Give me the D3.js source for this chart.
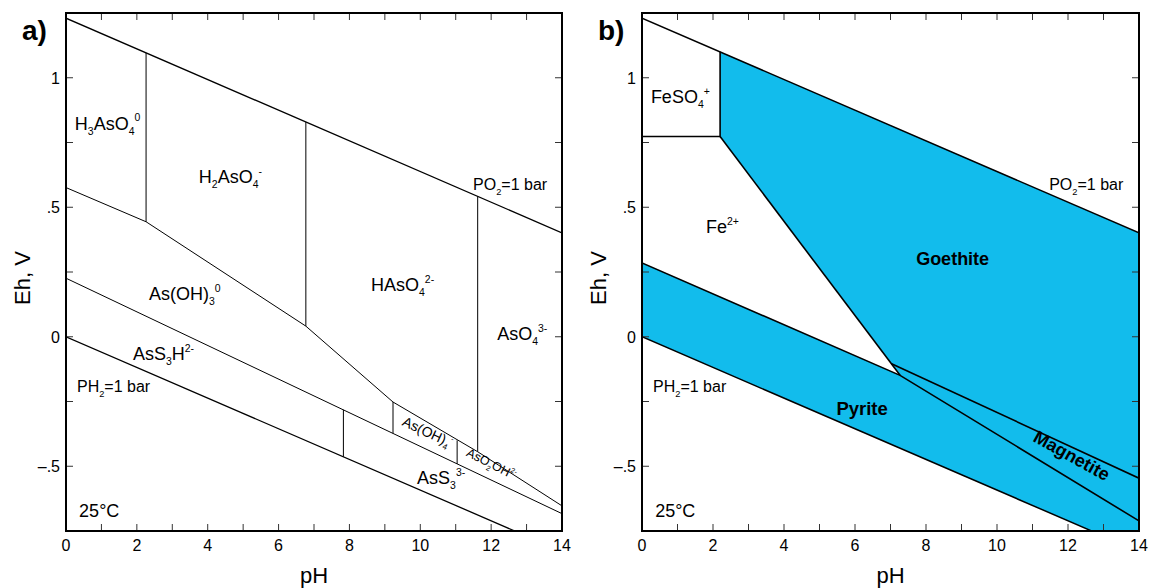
<!DOCTYPE html>
<html><head><meta charset="utf-8">
<script src="https://cdn.jsdelivr.net/npm/d3@7"></script>
<style>body{margin:0;background:#fff}svg{display:block}text{font-family:"Liberation Sans",Arial,sans-serif;fill:#000}</style>
</head><body>
<svg id="c" width="1149" height="588"></svg>
<script>
// ---------- data ----------
const phDomain = [0, 14];
const ehDomain = [-0.75, 1.25];
const phTicks = d3.range(0, 15, 1);
const phLabels = [0, 2, 4, 6, 8, 10, 12, 14];
const ehTicks = d3.range(-0.75, 1.26, 0.25);
const ehLabels = [-0.5, 0, 0.5, 1];
const ehLabelText = ["\u2013.5", "0", ".5", "1"];

const o2Line = [[0, 1.23], [14, 0.401]];
const h2Line = [[0, 0], [14, -0.829]];

// panel a (As)
const asUpper = [[0, 0.576], [2.26, 0.444], [6.77, 0.041], [9.23, -0.252], [11.62, -0.444], [14, -0.653]];
const asLower = [[0, 0.226], [14, -0.683]];
const asVerticals = [[2.26, 1.096, 0.444], [6.77, 0.829, 0.041], [11.62, 0.542, -0.444],
                     [7.83, -0.282, -0.4635], [9.23, -0.252, -0.373], [11.04, -0.40, -0.491]];

// panel b (Fe)
const feso4Box = [[0, 0.773], [2.2, 0.773], [2.2, 1.10]];
const goethite = [[2.2, 1.10], [14, 0.401], [14, -0.546], [7.03, -0.104], [2.2, 0.773]];
const magnetite = [[7.03, -0.104], [14, -0.546], [14, -0.711], [7.27, -0.149]];
const pyrite = [[0, 0.285], [7.27, -0.149], [14, -0.711], [14, -0.829], [0, 0]];
const fe2GoeLine = [[2.2, 0.773], [7.27, -0.149]];
const magTopLine = [[7.03, -0.104], [14, -0.546]];
const pyrTopLine = [[0, 0.285], [7.27, -0.149], [14, -0.711]];

// labels: [text, pH, Eh, size, bold, rotate, anchor]
const labelsA = [
  ["H_{3}AsO_{4}^{0}", 0.25, 0.80, 18, false, 0, "start"],
  ["H_{2}AsO_{4}^{-}", 3.75, 0.593, 18, false, 0, "start"],
  ["HAsO_{4}^{2-}", 8.61, 0.176, 18, false, 0, "start"],
  ["AsO_{4}^{3-}", 12.17, -0.013, 18, false, 0, "start"],
  ["As(OH)_{3}^{0}", 2.34, 0.141, 18, false, 0, "start"],
  ["AsS_{3}H^{2-}", 1.89, -0.091, 18, false, 0, "start"],
  ["PH_{2}=1 bar", 0.31, -0.214, 16, false, 0, "start"],
  ["PO_{2}=1 bar", 11.49, 0.566, 16, false, 0, "start"],
  ["AsS_{3}^{3-}", 9.91, -0.569, 18, false, 0, "start"],
  ["As(OH)_{4}^{-}", 10.15, -0.385, 14, false, 25, "middle"],
  ["AsO_{2}OH^{2-}", 11.95, -0.505, 12.5, false, 27, "middle"],
  ["25°C", 0.37, -0.696, 18, false, 0, "start"]
];
const labelsB = [
  ["FeSO_{4}^{+}", 0.25, 0.903, 18, false, 0, "start"],
  ["Fe^{2+}", 1.8, 0.40, 18, false, 0, "start"],
  ["Goethite", 8.75, 0.276, 18, true, 0, "middle"],
  ["PO_{2}=1 bar", 11.47, 0.566, 16, false, 0, "start"],
  ["PH_{2}=1 bar", 0.31, -0.214, 16, false, 0, "start"],
  ["Pyrite", 6.2, -0.303, 18.5, true, 0, "middle"],
  ["Magnetite", 12.02, -0.48, 18, true, 29, "middle"],
  ["25°C", 0.37, -0.696, 18, false, 0, "start"]
];

// ---------- drawing ----------
const svg = d3.select("#c");
const yTop = 13, yBot = 531;
const FILL = "#12BCEC";

function rich(sel, str, fs) {
  const re = /([_^])\{([^}]*)\}|([^_^]+)/g;
  let m, cur = 0;
  while ((m = re.exec(str)) !== null) {
    let txt, target, size;
    if (m[3] !== undefined) { txt = m[3]; target = 0; size = fs; }
    else { txt = m[2]; target = m[1] === "_" ? 0.28 * fs : -0.45 * fs; size = fs * 0.58; }
    sel.append("tspan").attr("dy", target - cur).attr("font-size", size).text(txt);
    cur = target;
  }
}

function panel(id, x0, x1, letter, drawContent, labels) {
  const x = d3.scaleLinear().domain(phDomain).range([x0, x1]);
  const y = d3.scaleLinear().domain(ehDomain).range([yBot, yTop]);
  const g = svg.append("g");
  const clipId = "clip" + id;
  svg.append("clipPath").attr("id", clipId).append("rect")
    .attr("x", x0).attr("y", yTop).attr("width", x1 - x0).attr("height", yBot - yTop);
  const content = g.append("g").attr("clip-path", `url(#${clipId})`);
  const line = d3.line().x(d => x(d[0])).y(d => y(d[1]));
  drawContent(content, x, y, line);

  const tk = g.append("g").attr("stroke", "#333").attr("stroke-width", 1);
  phTicks.forEach(t => {
    tk.append("line").attr("x1", x(t)).attr("x2", x(t)).attr("y1", yBot).attr("y2", yBot - 7);
    tk.append("line").attr("x1", x(t)).attr("x2", x(t)).attr("y1", yTop).attr("y2", yTop + 7);
  });
  ehTicks.forEach(t => {
    tk.append("line").attr("x1", x0).attr("x2", x0 + 7).attr("y1", y(t)).attr("y2", y(t));
    tk.append("line").attr("x1", x1).attr("x2", x1 - 7).attr("y1", y(t)).attr("y2", y(t));
  });
  g.append("rect").attr("x", x0).attr("y", yTop).attr("width", x1 - x0).attr("height", yBot - yTop)
    .attr("fill", "none").attr("stroke", "#000").attr("stroke-width", 2);

  phLabels.forEach(t => g.append("text").attr("x", x(t)).attr("y", 551).attr("text-anchor", "middle")
    .attr("font-size", 16).text(t));
  ehLabels.forEach((t, i) => g.append("text").attr("x", x0 - 6).attr("y", y(t) + 6).attr("text-anchor", "end")
    .attr("font-size", 16).text(ehLabelText[i]));
  g.append("text").attr("x", (x0 + x1) / 2).attr("y", 583).attr("text-anchor", "middle")
    .attr("font-size", 22).text("pH");
  g.append("text").attr("transform", `translate(${x0 - 36},${(yTop + yBot) / 2 + 6}) rotate(-90)`)
    .attr("text-anchor", "middle").attr("font-size", 22).text("Eh, V");
  g.append("text").attr("x", x0 - 44).attr("y", 40).attr("font-size", 28).attr("font-weight", "bold").text(letter);

  labels.forEach(([s, ph, eh, fs, bold, rot, anchor]) => {
    const t = g.append("text")
      .attr("transform", `translate(${x(ph)},${y(eh)}) rotate(${rot})`)
      .attr("font-size", fs).attr("text-anchor", anchor)
      .attr("font-weight", bold ? "bold" : "normal");
    rich(t, s, fs);
  });
}

panel("a", 66, 562, "a)", (c, x, y, line) => {
  const st = (p, w) => c.append("path").attr("d", line(p)).attr("fill", "none").attr("stroke", "#000").attr("stroke-width", w);
  st(o2Line, 1.3); st(h2Line, 1.3);
  st(asUpper, 1); st(asLower, 1);
  asVerticals.forEach(v => st([[v[0], v[1]], [v[0], v[2]]], 1));
}, labelsA);

panel("b", 642, 1139, "b)", (c, x, y, line) => {
  [goethite, magnetite, pyrite].forEach(p =>
    c.append("path").attr("d", line(p) + "Z").attr("fill", FILL).attr("stroke", "none"));
  const st = (p, w) => c.append("path").attr("d", line(p)).attr("fill", "none").attr("stroke", "#000").attr("stroke-width", w);
  st(o2Line, 1.5); st(h2Line, 1.5);
  st(feso4Box, 1.6); st(fe2GoeLine, 1.6); st(magTopLine, 1.6); st(pyrTopLine, 1.6);
}, labelsB);
</script>
</body></html>
